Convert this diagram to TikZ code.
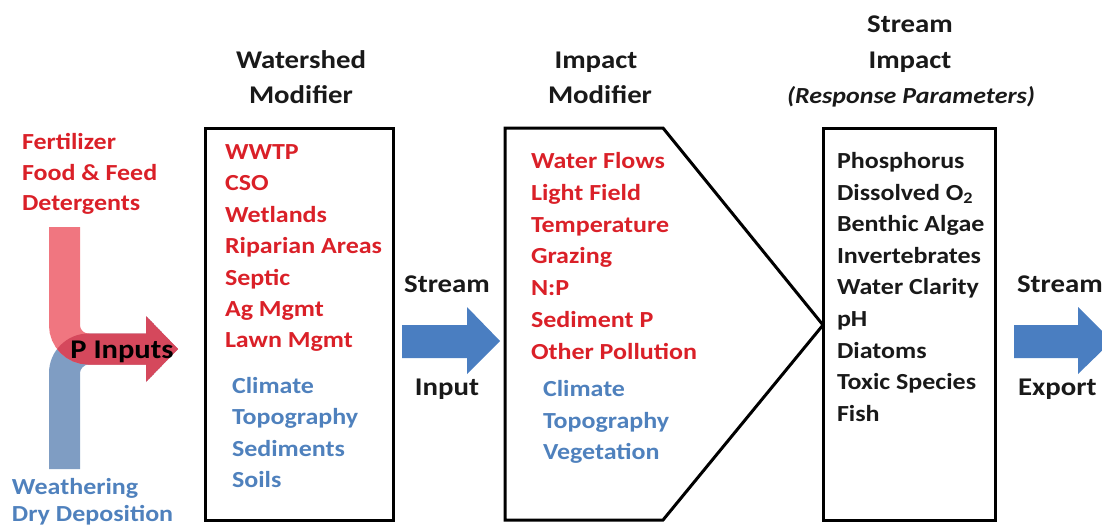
\documentclass[tikz,border=0pt]{standalone}
\usepackage{fontspec}
\setmainfont{Carlito}[FakeStretch=1.13]
\definecolor{redtxt}{RGB}{218,32,40}
\definecolor{bluetxt}{RGB}{79,129,189}
\definecolor{headtxt}{RGB}{25,25,25}
\definecolor{arrowblue}{RGB}{74,126,193}
\definecolor{bandblue}{RGB}{127,157,195}
\definecolor{bandpink}{RGB}{240,118,128}
\definecolor{banddark}{RGB}{213,72,92}
% outline of the rising blue band, merged into the P-inputs arrow
\def\blueband{(49,469) -- (49,373) .. controls (49,351.2) and (66.7,333.5) .. (88.5,333.5)
  -- (146,333.5) -- (146,316) -- (178,349) -- (146,382) -- (146,364.5)
  -- (88.5,364.5) .. controls (83.8,364.5) and (80,369.2) .. (80,373) -- (80,469) -- cycle}
\begin{document}
\begin{tikzpicture}[x=1pt,y=-1pt,
  every node/.style={inner sep=0pt,outer sep=0pt},
  item/.style={font=\bfseries\fontsize{23}{28}\selectfont,anchor=base west},
  red item/.style={item,text=redtxt},
  blue item/.style={item,text=bluetxt},
  black item/.style={item,text=headtxt},
  head/.style={font=\bfseries\fontsize{25.5}{30}\selectfont,anchor=base,text=headtxt},
  flow label/.style={font=\bfseries\fontsize{25.5}{30}\selectfont,text=headtxt},
  box/.style={draw=black,line width=3pt},
  block arrow/.style={fill=arrowblue},
  band/.style={line width=31pt,rounded corners=24pt}]

\useasboundingbox (0,0) rectangle (1102,527);
\clip (0,0) rectangle (1102,527);

% ---------- P inputs: two merging bands ----------
\fill[bandblue] \blueband;
\draw[band,draw=bandpink] (64.5,227) -- (64.5,349) -- (146.5,349);
\fill[bandpink] (146,316) -- (178,349) -- (146,382) -- cycle;
\begin{scope}
  \clip \blueband;
  \draw[band,draw=banddark] (64.5,227) -- (64.5,349) -- (146.5,349);
  \fill[banddark] (146,316) -- (178,349) -- (146,382) -- cycle;
\end{scope}
\node[font=\bfseries\fontsize{27}{30}\selectfont,text=black,anchor=base] (pin) at (122,358) {P Inputs};

% sources
\foreach \t [count=\i] in {Fertilizer,Food \& Feed,Detergents}
  \node[red item] (src-\i) at ({22},{149.5+30.5*(\i-1)}) {\t};
\foreach \t [count=\i] in {Weathering,Dry Deposition}
  \node[blue item] (nat-\i) at ({12},{494+27*(\i-1)}) {\t};

% ---------- Watershed modifier ----------
\node[head] (wh1) at (301,69) {Watershed};
\node[head] (wh2) at (301,103) {Modifier};
\draw[box] (205,128) rectangle (393,520);
\foreach \t [count=\i] in {WWTP,CSO,Wetlands,Riparian Areas,Septic,Ag Mgmt,Lawn Mgmt}
  \node[red item] (wr-\i) at ({225},{159.5+31.4*(\i-1)}) {\t};
\foreach \t [count=\i] in {Climate,Topography,Sediments,Soils}
  \node[blue item] (wb-\i) at ({232},{393.5+31.4*(\i-1)}) {\t};

% stream input
\node[flow label,anchor=base] (sin1) at (447,292) {Stream};
\node[flow label,anchor=base] (sin2) at (447,395) {Input};
\fill[block arrow] (402,325) -- (467,325) -- (467,307) -- (500,341)
  -- (467,374) -- (467,358) -- (402,358) -- cycle;

% ---------- Impact modifier ----------
\node[head] (ih1) at (596,69) {Impact};
\node[head] (ih2) at (600,103) {Modifier};
\draw[box,line join=miter] (505,128) -- (663,128) -- (823,325) -- (663,520)
  -- (505,520) -- cycle;
\foreach \t [count=\i] in {Water Flows,Light Field,Temperature,Grazing,N:P,Sediment P,Other Pollution}
  \node[red item] (ir-\i) at ({531},{168.5+31.8*(\i-1)}) {\t};
\foreach \t [count=\i] in {Climate,Topography,Vegetation}
  \node[blue item] (ib-\i) at ({543},{396.5+31.5*(\i-1)}) {\t};

% ---------- Stream impact ----------
\node[head] (sh1) at (910,33) {Stream};
\node[head] (sh2) at (910,69) {Impact};
\node[head,font=\bfseries\itshape\fontsize{23}{28}\selectfont] (sh3) at (911,103) {(Response Parameters)};
\draw[box] (823,128) rectangle (995,520);
\foreach \t [count=\i] in {Phosphorus,Dissolved O\textsubscript{2},Benthic Algae,Invertebrates,Water Clarity,pH,Diatoms,Toxic Species,Fish}
  \node[black item] (sr-\i) at ({837},{168.5+31.6*(\i-1)}) {\t};

% stream export
\node[flow label,anchor=base west] (sex1) at (1017,292) {Stream};
\node[flow label,anchor=base west] (sex2) at (1018,395) {Export};
\fill[block arrow] (1014,325) -- (1078,325) -- (1078,307) -- (1112,341)
  -- (1078,374) -- (1078,358) -- (1014,358) -- cycle;
\end{tikzpicture}
\end{document}
